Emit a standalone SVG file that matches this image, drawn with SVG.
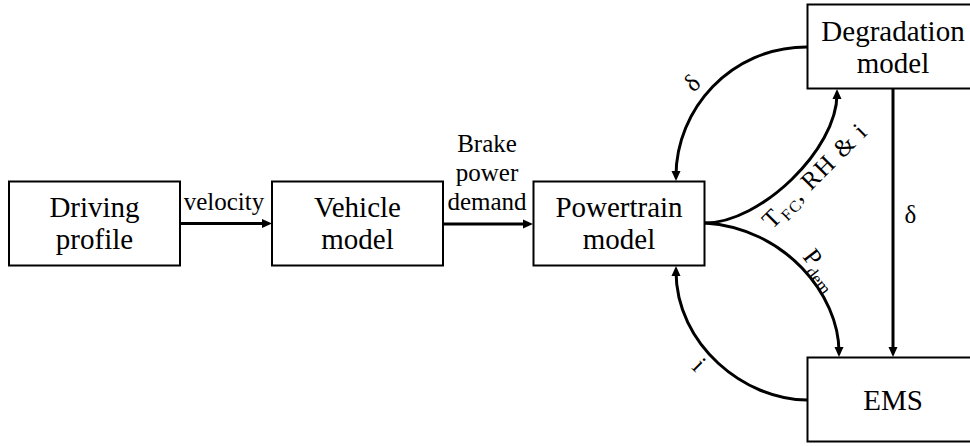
<svg xmlns="http://www.w3.org/2000/svg" width="970" height="446" viewBox="0 0 970 446" font-family="'Liberation Serif', serif">
<defs>
<marker id="arr" markerUnits="userSpaceOnUse" markerWidth="10" markerHeight="9" refX="5" refY="4.5" orient="auto" overflow="visible">
<path d="M0,0 L10,4.5 L0,9 z" fill="#000"/>
</marker>
<style>
.box{fill:#fff;stroke:#000;stroke-width:2}
.nt{font-size:29px;text-anchor:middle;fill:#000}
.lt{font-size:25px;fill:#000}
.c{fill:none;stroke:#000;stroke-width:3;marker-end:url(#arr)}
</style>
</defs>
<rect width="970" height="446" fill="#fff"/>
<g id="connectors">
<path class="c" d="M180,223.5 L267,223.5"/>
<path class="c" d="M443,224 L528,224"/>
<path class="c" d="M893,88.5 L893,352"/>
<path class="c" d="M807,47 C730,47 676,110 676,176"/>
<path class="c" d="M705,223 C760,223 837,150 837,94"/>
<path class="c" d="M705,223 C785,228 839,295 839,352"/>
<path class="c" d="M807,400 C745,400 676,345 676,271"/>
<text class="lt" x="224" y="210" text-anchor="middle">velocity</text>
<text class="lt" text-anchor="middle"><tspan x="487" y="152">Brake</tspan><tspan x="487" y="181">power</tspan><tspan x="487" y="210">demand</tspan></text>
<text class="lt" x="910.5" y="223" text-anchor="middle" font-size="26">δ</text>
<text class="lt" x="693" y="91" text-anchor="middle" transform="rotate(-45 693 84)">δ</text>
<text class="lt" transform="translate(772,230) rotate(-45)" textLength="136" lengthAdjust="spacing">T<tspan font-size="16" dy="5">FC</tspan><tspan dy="-5">, RH &amp; i</tspan></text>
<text class="lt" transform="translate(802,257) rotate(52)">P<tspan font-size="17" dy="7">dem</tspan></text>
<text class="lt" transform="translate(691,368) rotate(45)">i</text>
</g>
<g id="driving">
<rect class="box" x="9" y="181.5" width="171" height="84"/>
<text class="nt"><tspan x="94.5" y="217">Driving</tspan><tspan x="94.5" y="249">profile</tspan></text>
</g>
<g id="vehicle">
<rect class="box" x="272" y="181.5" width="171" height="84"/>
<text class="nt"><tspan x="357.5" y="217">Vehicle</tspan><tspan x="357.5" y="249">model</tspan></text>
</g>
<g id="powertrain">
<rect class="box" x="533.5" y="181.5" width="171" height="84"/>
<text class="nt"><tspan x="619" y="217">Powertrain</tspan><tspan x="619" y="249">model</tspan></text>
</g>
<g id="degradation">
<rect class="box" x="807.5" y="4.5" width="171" height="84"/>
<text class="nt"><tspan x="893" y="41">Degradation</tspan><tspan x="893" y="73">model</tspan></text>
</g>
<g id="ems">
<rect class="box" x="807.5" y="357.5" width="171" height="84"/>
<text class="nt" x="893" y="410">EMS</text>
</g>
</svg>
